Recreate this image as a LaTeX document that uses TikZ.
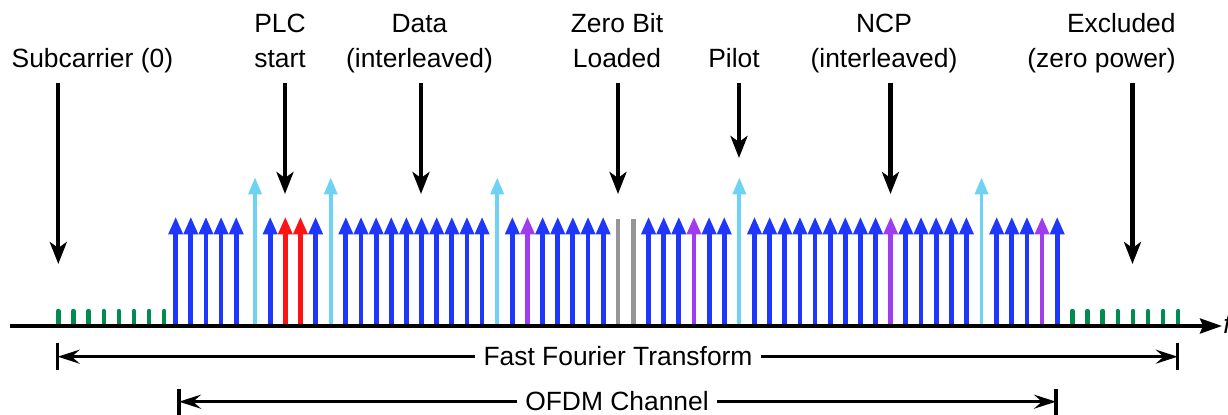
\documentclass[tikz,border=0pt]{standalone}
\usepackage{fontspec}
\setmainfont{Liberation Sans}
\usetikzlibrary{arrows.meta}
\definecolor{cblue}{RGB}{30,55,250}
\definecolor{clight}{RGB}{110,210,245}
\definecolor{cred}{RGB}{250,20,20}
\definecolor{cpurple}{RGB}{160,60,240}
\definecolor{cgray}{RGB}{150,150,150}
\definecolor{cgreen}{RGB}{0,140,80}
\begin{document}
\begin{tikzpicture}[x=0.5pt,y=-0.5pt,
  lbl/.style={font=\fontsize{13.2}{15.6}\selectfont, inner sep=0pt, anchor=base, text depth=3pt},
  sub/.style={line width=2.4pt, -{Triangle[length=8.8pt,width=6.8pt]}},
  subl/.style={line width=1.9pt, -{Triangle[length=8.5pt,width=6.4pt]}},
  zbit/.style={line width=2.2pt, cgray},
  excl/.style={line width=2.2pt, cgreen, line cap=round},
  blk/.style={line width=2.1pt, -{Stealth[length=11pt,width=8.5pt,inset=3pt]}, shorten <=4.5pt},
  axisline/.style={line width=1.7pt, -{Stealth[length=11pt,width=7.5pt,inset=1.5pt]}},
  dim/.style={line width=1.6pt, -{Stealth[length=11pt,width=7pt,inset=4pt]}},
  bar/.style={line width=1.6pt}]
\useasboundingbox (0,0) rectangle (1228,415);

% top labels
\node[lbl] (sub) at (92.4,68) {Subcarrier (0)};
\node[lbl] (plc1) at (280,33) {PLC};
\node[lbl] (plc) at (280,68) {start};
\node[lbl] (data1) at (419.5,33) {Data};
\node[lbl] (data) at (419.5,68) {(interleaved)};
\node[lbl] (zero1) at (617,33) {Zero Bit};
\node[lbl] (zero) at (617,68) {Loaded};
\node[lbl] (pilot) at (734,68) {Pilot};
\node[lbl] (ncp1) at (884,33) {NCP};
\node[lbl] (ncp) at (884,68) {(interleaved)};
\node[lbl, anchor=base east] (exc1) at (1176,33) {Excluded};
\node[lbl, anchor=base east] (exc) at (1176,68) {(zero power)};

% tips of label arrows
\coordinate (subT) at (58.3,264);
\coordinate (plcT) at (285,194);
\coordinate (dataT) at (421,194);
\coordinate (zeroT) at (618,194);
\coordinate (pilotT) at (739,158);
\coordinate (ncpT) at (890.5,194);
\coordinate (excT) at (1132.5,264);

\draw[blk] (sub.south -| subT) -- (subT);
\draw[blk] (plc.south -| plcT) -- (plcT);
\draw[blk] (data.south -| dataT) -- (dataT);
\draw[blk] (zero.south -| zeroT) -- (zeroT);
\draw[blk] (pilot.south -| pilotT) -- (pilotT);
\draw[blk] (ncp.south -| ncpT) -- (ncpT);
\draw[blk] (exc.south -| excT) -- (excT);

% subcarriers
\foreach \i in {0,...,7,67,68,...,74}
  \draw[excl] ({58.3+15.135*\i},325) -- ({58.3+15.135*\i},311);
\foreach \i in {8,...,12}
  \draw[sub,cblue] ({58.3+15.135*\i-3.7},326) -- ({58.3+15.135*\i-3.7},216.7);
\foreach \i in {14,17,19,20,...,28,30,32,33,...,36,39,40,41,43,44,46,47,...,54,56,57,...,60,62,63,64,66}
  \draw[sub,cblue] ({58.3+15.135*\i},326) -- ({58.3+15.135*\i},216.7);
\foreach \i in {15,16}
  \draw[sub,cred] ({58.3+15.135*\i},326) -- ({58.3+15.135*\i},216.7);
\foreach \i in {31,42,55,65}
  \draw[sub,cpurple] ({58.3+15.135*\i},326) -- ({58.3+15.135*\i},216.7);
\foreach \i in {13,18,29,45,61}
  \draw[subl,clight] ({58.3+15.135*\i},326) -- ({58.3+15.135*\i},177.3);
\foreach \i in {37,38}
  \draw[zbit] ({58.3+15.135*\i},326) -- ({58.3+15.135*\i},219.3);

% frequency axis
\coordinate (axL) at (10,326);
\coordinate (axR) at (1222,326);
\draw[axisline] (axL) -- (axR);
\node[lbl, anchor=base west, font=\fontsize{13.2}{15.6}\selectfont\itshape] (fq) at (1223,334) {f};

% FFT span
\coordinate (fftL) at (57.7,356.7);
\coordinate (fftR) at (1177.7,356.7);
\draw[bar] (57.7,343) -- (57.7,370);
\draw[bar] (1177.7,343) -- (1177.7,370);
\node[lbl, inner xsep=4pt] (fft) at (618,366) {Fast Fourier Transform};
\draw[dim] (fft.west |- fftL) -- (fftL);
\draw[dim] (fft.east |- fftR) -- (fftR);

% OFDM channel span
\coordinate (ofL) at (179,401.7);
\coordinate (ofR) at (1056,401.7);
\draw[bar] (179,389) -- (179,416);
\draw[bar] (1056,389) -- (1056,416);
\node[lbl, inner xsep=4pt] (ofdm) at (617,411) {OFDM Channel};
\draw[dim] (ofdm.west |- ofL) -- (ofL);
\draw[dim] (ofdm.east |- ofR) -- (ofR);
\end{tikzpicture}
\end{document}
